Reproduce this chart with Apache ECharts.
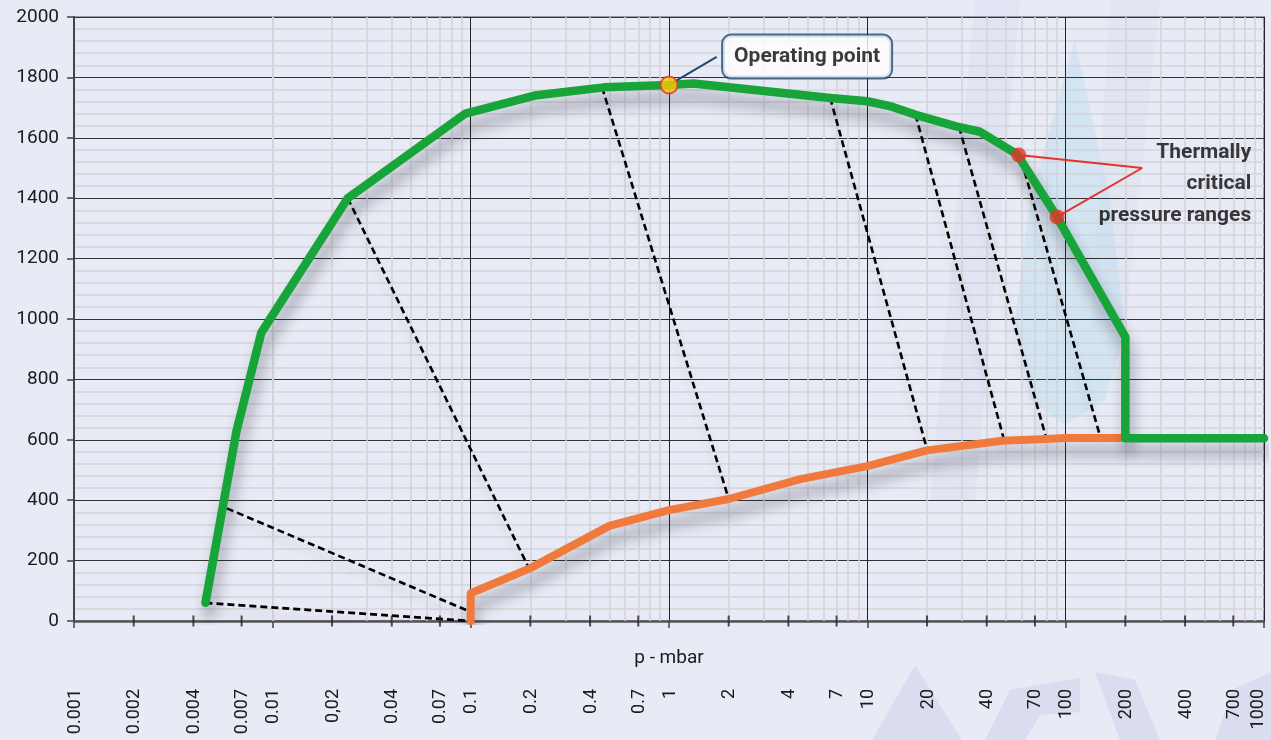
<!DOCTYPE html>
<html>
<head>
<meta charset="utf-8">
<script src="https://cdn.jsdelivr.net/npm/echarts@6/dist/echarts.min.js"></script>
<style>
html,body{margin:0;padding:0;background:#e8ebf5;}
#chart{width:1271px;height:740px;}
</style>
</head>
<body>
<div id="chart"></div>
<script>
// ---- data ----
const xTickValues = [0.001,0.002,0.004,0.007,0.01,0.02,0.04,0.07,0.1,0.2,0.4,0.7,1,2,4,7,10,20,40,70,100,200,400,700,1000];
const xTickLabels = ['0.001','0.002','0.004','0.007','0.01','0,02','0.04','0.07','0.1','0.2','0.4','0.7','1','2','4','7','10','20','40','70','100','200','400','700','1000'];
const crossTickValues = [0.002,0.004,0.007,0.02,0.04,0.07,0.2,0.4,0.7,2,4,7,20,40,70,200,400,700];
const decades = [0.001,0.01,0.1,1,10,100];
const minorMultipliers = [2,3,4,5,6,7,8,9];

const greenCurve = [[0.0046,60],[0.0066,630],[0.0088,955],[0.024,1400],[0.094,1680],[0.21,1740],[0.47,1767],[1,1775],[1.33,1780],[6.5,1732],[10,1721],[13.3,1703],[17.5,1676],[28,1638],[37,1620],[57,1545],[90,1340],[200,940],[200,605],[1000,605]];
const orangeCurve = [[0.1,0],[0.1,92],[0.2,175],[0.5,315],[1,367],[2,404],[4.6,470],[10,513],[20,565],[48,597],[80,603],[100,606],[200,606]];
const dashedLines = [
  [[0.0059,373],[0.1,30]],
  [[0.0046,60],[0.1,0]],
  [[0.024,1400],[0.195,180]],
  [[0.46,1767],[2,404]],
  [[6.5,1732],[20,568]],
  [[17.5,1676],[49,598]],
  [[29,1636],[80,603]],
  [[60,1522],[150,606]]
];
const operatingPoint = [[1,1775]];
const operatingLeader = [[1,1775],[1.74,1868]];
const operatingLabelAnchor = [[4.97,1869]];
const operatingLabel = 'Operating point';
const criticalPoints = [[58,1543],[90.5,1338]];
const criticalLeader = [[58,1543],[243,1500],[90.5,1338]];
const criticalLabelAnchor = [[862,1447]];
const criticalLabel = 'Thermally\ncritical\npressure ranges';
const xAxisName = 'p - mbar';

// ---- build ----
const minorGridValues = [];
decades.forEach(d => minorMultipliers.forEach(m => minorGridValues.push(+(d*m).toPrecision(3))));

const chart = echarts.init(document.getElementById('chart'));
const shadow = {shadowColor:'rgba(40,40,60,0.4)', shadowBlur:14, shadowOffsetX:3, shadowOffsetY:13};

const series = [];
// minor vertical grid lines
series.push({
  type:'line', data:[], silent:true, z:1,
  markLine:{silent:true, z:1, symbol:['none','none'], animation:false, label:{show:false},
    lineStyle:{color:'#d3d3d8', width:1.5, type:'solid'},
    data: minorGridValues.map(v=>({xAxis:v}))}
});
dashedLines.forEach(seg => series.push({
  type:'line', data:seg, showSymbol:false, silent:true, z:6, animation:false,
  lineStyle:{color:'#000', width:2.6, type:[7,4], shadowColor:'rgba(40,40,60,0.2)', shadowBlur:8, shadowOffsetY:8}
}));
series.push({type:'line', data:orangeCurve, showSymbol:false, silent:true, z:8, animation:false,
  lineStyle:Object.assign({color:'#f07a3c', width:8, cap:'round', join:'round'}, shadow)});
series.push({type:'line', data:greenCurve, showSymbol:false, silent:true, z:9, animation:false,
  lineStyle:Object.assign({color:'#17a438', width:8.5, cap:'round', join:'round'}, shadow)});
// cross ticks on x axis
series.push({type:'scatter', data:crossTickValues.map(v=>[v,0]), symbol:'rect', symbolSize:[2,11], clip:false,
  itemStyle:{color:'#222'}, silent:true, z:10, animation:false});
// leaders
series.push({type:'line', data:operatingLeader, showSymbol:false, silent:true, z:10, animation:false,
  lineStyle:{color:'#1d4b6a', width:2}});
series.push({type:'line', data:criticalLeader, showSymbol:false, silent:true, z:10, animation:false,
  lineStyle:{color:'#e2342b', width:2}});
series.push({type:'scatter', data:operatingPoint, symbol:'circle', symbolSize:17, clip:false,
  itemStyle:{color:'#ffcb05', borderColor:'#e2342b', borderWidth:2}, silent:true, z:11, animation:false});
series.push({type:'scatter', data:criticalPoints, symbol:'circle', symbolSize:15, clip:false,
  itemStyle:{color:'#e2342b'}, silent:true, z:11, animation:false});
series.push({type:'scatter', data:operatingLabelAnchor, symbolSize:0, clip:false, silent:true, z:12, animation:false,
  label:{show:true, position:'inside', formatter:operatingLabel, color:'#0a0a0a', fontFamily:'Roboto', fontWeight:'bold', fontSize:21,
    backgroundColor:'#ffffff', borderColor:'#1d4b6a', borderWidth:2, borderRadius:8, padding:[11,11,10,11]}});
series.push({type:'scatter', data:criticalLabelAnchor, symbolSize:0, clip:false, silent:true, z:12, animation:false,
  label:{show:true, position:'left', distance:0, align:'right', formatter:criticalLabel, color:'#0a0a0a', fontFamily:'Roboto', fontWeight:'bold', fontSize:21, lineHeight:31.5}});

const option = {
  backgroundColor:'#e8ebf5',
  animation:false,
  grid:{left:74, right:7, top:17, bottom:119, containLabel:false, show:true, borderColor:'#9a9aa2', borderWidth:2},
  xAxis:{type:'log', logBase:10, min:0.001, max:1000, splitNumber:6,
    name:xAxisName, nameLocation:'middle', nameGap:28, nameTextStyle:{fontFamily:'Roboto', fontSize:19, color:'#1a1a1a'},
    axisLine:{show:true, onZero:false, lineStyle:{color:'#555', width:2.5}},
    axisTick:{show:true, length:7, lineStyle:{color:'#444', width:1.5}},
    axisLabel:{show:false},
    splitLine:{show:true, lineStyle:{color:'#222', width:1}},
    minorTick:{show:false}, minorSplitLine:{show:false}},
  yAxis:{type:'value', min:0, max:2000, interval:200,
    axisLine:{show:true, lineStyle:{color:'#444', width:2}},
    axisTick:{show:true, length:7, lineStyle:{color:'#444', width:1.5}},
    axisLabel:{margin:15, fontFamily:'Roboto', fontSize:19, color:'#1a1a1a', formatter: v => String(v)},
    splitLine:{show:true, lineStyle:{color:'#333', width:1.2}},
    minorTick:{show:false, splitNumber:5},
    minorSplitLine:{show:true, lineStyle:{color:'#d3d3d8', width:1.5}}},
  series: series
};
chart.setOption(option);

// watermark shapes (decorative background) and rotated tick labels
const wm = 'rgba(200,205,232,0.45)';
const graphics = [
  {type:'polygon', z:-10, silent:true, shape:{points:[[975,0],[1020,0],[975,500],[930,500]]}, style:{fill:'rgba(200,205,232,0.22)'}},
  {type:'polygon', z:-10, silent:true, shape:{points:[[1110,0],[1160,0],[1125,330],[1090,330]]}, style:{fill:'rgba(200,205,232,0.18)'}},
  {type:'polygon', z:-10, silent:true, shape:{points:[[1075,40],[1110,200],[1125,330],[1105,400],[1065,425],[1030,400],[1015,320],[1030,200]]}, style:{fill:'rgba(190,222,240,0.5)'}},
  {type:'polygon', z:-10, silent:true, shape:{points:[[915,665],[962,740],[872,740]]}, style:{fill:wm}},
  {type:'polygon', z:-10, silent:true, shape:{points:[[1080,678],[1010,690],[985,740],[1025,740],[1040,715],[1080,712]]}, style:{fill:wm}},
  {type:'polygon', z:-10, silent:true, shape:{points:[[1095,672],[1135,680],[1160,740],[1120,740]]}, style:{fill:wm}},
  {type:'polygon', z:-10, silent:true, shape:{points:[[1271,672],[1232,690],[1215,740],[1271,740]]}, style:{fill:wm}}
];
xTickValues.forEach((v,i) => {
  const px = chart.convertToPixel({xAxisIndex:0}, v);
  graphics.push({type:'text', silent:true, z:10, x:Math.min(px+1, 1258), y:689, rotation:Math.PI/2,
    style:{text:xTickLabels[i], fontFamily:'Roboto', fontSize:18, fill:'#1a1a1a', align:'right', verticalAlign:'middle'}});
});
chart.setOption({graphic: graphics});
</script>
</body>
</html>
